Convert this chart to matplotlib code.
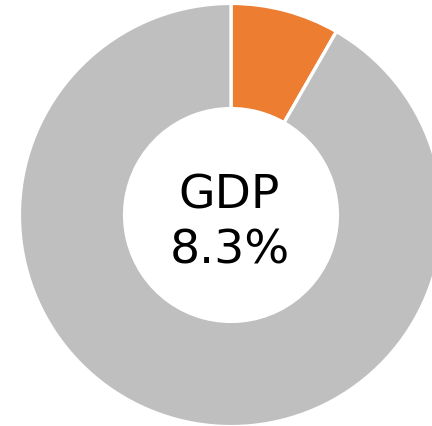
import matplotlib.pyplot as plt

labels = ['GDP', 'Other']
values = [8.3, 91.7]
colors = ['#ED7D31', '#BFBFBF']

fig = plt.figure(figsize=(4.32, 4.27), dpi=100)
ax = fig.add_axes([0, 0, 1, 1])

# pixel geometry of the reference: centre (231, 216), outer radius 210
R = 210.0
ax.pie(values, colors=colors, startangle=90, counterclock=False,
       radius=(R + 1.6) / R,
       wedgeprops=dict(width=(R - 108 + 3.2) / R, edgecolor='white', linewidth=2.4))

ax.set_xlim(-231 / R, (432 - 231) / R)
ax.set_ylim(-(427 - 216) / R, 216 / R)
ax.set_aspect('equal')
ax.axis('off')

ax.text(-1.5 / R, (216 - 209) / R, labels[0], ha='center', va='baseline',
        fontsize=34, family='DejaVu Sans', color='black')
ax.text(-1.5 / R, (216 - 264) / R, '{}%'.format(values[0]), ha='center', va='baseline',
        fontsize=34, family='DejaVu Sans', color='black')

plt.savefig('out.png', dpi=100)
